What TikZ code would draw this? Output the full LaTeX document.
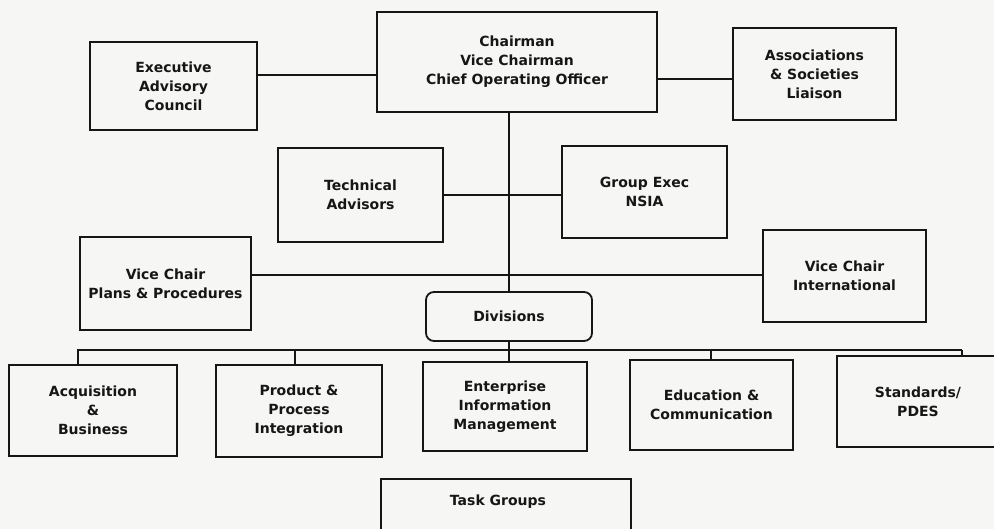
\documentclass[tikz,border=0pt]{standalone}
\usepackage{fontspec}
\setmainfont{DejaVu Sans}
\usetikzlibrary{calc}
\definecolor{ink}{RGB}{22,22,22}
\definecolor{paper}{RGB}{246,246,244}
\begin{document}
\begin{tikzpicture}[x=1pt,y=-1pt,
  lbl/.style={font=\fontsize{14}{19}\selectfont\bfseries, text=ink, align=center},
  orgbox/.style={lbl, draw=ink, line width=1.8pt, rectangle, inner sep=0pt},
  divbox/.style={orgbox, rounded corners=8pt},
  link/.style={draw=ink, line width=1.3pt},
  droplink/.style={draw=ink, line width=2pt},
  heavylink/.style={draw=ink, line width=2.4pt}]
  % page
  \fill[paper] (0,0) rectangle (994,529);
  \useasboundingbox (0,0) rectangle (994,529);
  \clip (0,0) rectangle (994,529);

  % top level
  \node[orgbox, minimum width=280, minimum height=100] (chair) at (517,62)
    {Chairman\\Vice Chairman\\Chief Operating Officer};
  \node[orgbox, minimum width=167, minimum height=88] (eac) at (173.5,86)
    {Executive\\Advisory\\Council};
  \node[orgbox, minimum width=163, minimum height=92] (assoc) at (814.5,74)
    {Associations\\\& Societies\\Liaison};

  % advisors
  \node[orgbox, minimum width=165, minimum height=94] (tech) at (360.5,195)
    {Technical\\Advisors};
  \node[orgbox, minimum width=165, minimum height=92] (grp) at (644.5,192)
    {Group Exec\\NSIA};

  % vice chairs
  \node[orgbox, minimum width=171, minimum height=93] (vcp) at (165.5,283.5)
    {Vice Chair\\Plans \& Procedures};
  \node[orgbox, minimum width=163, minimum height=92] (vci) at (844.5,276)
    {Vice Chair\\International};

  % divisions
  \node[divbox, minimum width=166, minimum height=49] (div) at (509,316.5) {Divisions};

  \node[orgbox, minimum width=168, minimum height=91] (acq) at (93,410.5)
    {Acquisition\\\&\\Business};
  \node[orgbox, minimum width=166, minimum height=92] (prod) at (299,411)
    {Product \&\\Process\\Integration};
  \node[orgbox, minimum width=164, minimum height=89] (ent) at (505,406.5)
    {Enterprise\\Information\\Management};
  \node[orgbox, minimum width=163, minimum height=90] (edu) at (711.5,405)
    {Education \&\\Communication};
  \node[orgbox, minimum width=162, minimum height=91] (std) at (918,401.5)
    {Standards/\\PDES};

  % task groups
  \node[orgbox, minimum width=250, minimum height=90, anchor=north] (task) at (506,478) {};
  \node[lbl, anchor=center] (tasklbl) at (498,502) {Task Groups};

  % connectors
  \draw[heavylink] ([yshift=11pt]eac.east) coordinate (ea) -- (ea -| chair.west);
  \draw[heavylink] ([yshift=-5pt]assoc.west) coordinate (as) -- (as -| chair.east);
  \draw[link] (div.north) -- (div.north |- chair.south);
  \draw[link] (tech.east) -- (tech.east -| grp.west);
  \draw[link] ([yshift=1pt]vci.west) coordinate (vc) -- (vc -| vcp.east);
  \draw[link] (div.south) -- (div.south |- ent.north);

  % division bus
  \coordinate (busL) at (78,350);
  \coordinate (busR) at (962,350);
  \draw[link] (busL |- acq.north) -- (busL) -- (busR);
  \draw[droplink] (busR) -- (busR |- std.north);
  \coordinate (pb) at ([xshift=-4pt]busL -| prod.north);
  \draw[droplink] (pb) -- (pb |- prod.north);
  \coordinate (eb) at ([xshift=-1pt]busL -| edu.north);
  \draw[droplink] (eb) -- (eb |- edu.north);
\end{tikzpicture}
\end{document}
